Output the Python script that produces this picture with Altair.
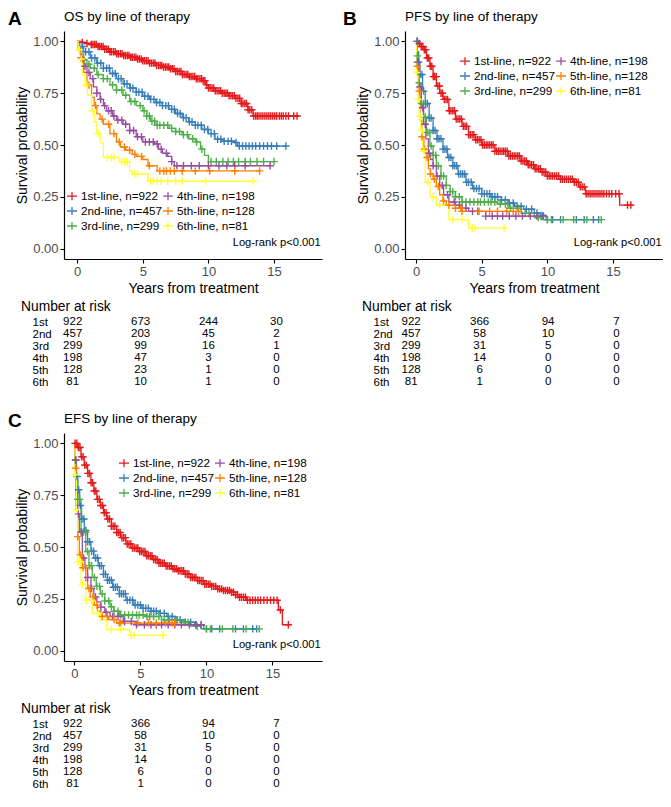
import altair as alt
import pandas as pd

FONT = "Liberation Sans"
PLUS = "M-1,0H1M0,-1V1"
LEG_PLUS = "M-1,0H1M0,-0.8V0.8"

LINES = ["1st-line, n=922", "2nd-line, n=457", "3rd-line, n=299",
         "4th-line, n=198", "5th-line, n=128", "6th-line, n=81"]
COLORS = ["#E41A1C", "#377EB8", "#4DAF4A", "#984EA3", "#FF7F00", "#FFFF33"]

RISK_ROWS = ["1st", "2nd", "3rd", "4th", "5th", "6th"]
RISK_TIMES = [0, 5, 10, 15]
OS_RISK = [[922, 673, 244, 30], [457, 203, 45, 2], [299, 99, 16, 1],
           [198, 47, 3, 0], [128, 23, 1, 0], [81, 10, 1, 0]]
PFS_RISK = [[922, 366, 94, 7], [457, 58, 10, 0], [299, 31, 5, 0],
            [198, 14, 0, 0], [128, 6, 0, 0], [81, 1, 0, 0]]
EFS_RISK = [[922, 366, 94, 7], [457, 58, 10, 0], [299, 31, 5, 0],
            [198, 14, 0, 0], [128, 6, 0, 0], [81, 1, 0, 0]]

# ---------------- OS (panel A) ----------------
OS1_T = [0, 0.3, 0.7, 1.0, 1.5, 2.0, 2.5, 3.0, 3.5, 4.0, 4.5, 5.0, 5.5, 6.0, 6.5, 7.0, 7.5, 8.0, 8.5, 9.0, 9.5, 9.8, 10.0, 10.5, 11.0, 11.5, 12.0, 12.5, 13.0, 13.4, 16.9]
OS1_S = [1.0, 0.995, 0.99, 0.985, 0.975, 0.962, 0.95, 0.94, 0.932, 0.923, 0.915, 0.907, 0.895, 0.884, 0.876, 0.868, 0.855, 0.84, 0.83, 0.82, 0.81, 0.79, 0.775, 0.762, 0.75, 0.738, 0.725, 0.70, 0.67, 0.64, 0.64]
OS1_C = [0.4, 0.75, 1.08, 1.2, 1.33, 1.45, 1.6, 1.72, 1.85, 1.98, 2.1, 2.25, 2.38, 2.5, 2.62, 2.77, 2.9, 3.02, 3.15, 3.3, 3.42, 3.55, 3.68, 3.82, 3.95, 4.08, 4.2, 4.35, 4.48, 4.6, 4.74, 4.88, 5.0, 5.13, 5.27, 5.4, 5.52, 5.66, 5.8, 5.93, 6.05, 6.2, 6.33, 6.45, 6.58, 6.72, 6.85, 6.98, 7.1, 7.25, 7.38, 7.5, 7.63, 7.77, 7.9, 8.02, 8.15, 8.3, 8.43, 8.55, 8.68, 8.82, 8.95, 9.08, 9.2, 9.35, 9.48, 9.6, 9.73, 9.87, 10.0, 10.13, 10.27, 10.4, 10.52, 10.66, 10.8, 10.93, 11.05, 11.2, 11.33, 11.45, 11.58, 11.72, 11.85, 11.98, 12.1, 12.25, 12.38, 12.5, 12.63, 12.77, 12.9, 13.02, 13.15, 13.3, 13.45, 13.6, 13.72, 13.85, 14.0, 14.15, 14.3, 14.45, 14.6, 14.75, 14.9, 15.05, 15.2, 15.4, 15.55, 15.7, 15.9, 16.1, 16.5, 16.75]
OS2_T = [0, 0.2, 0.5, 1.0, 1.5, 2.0, 2.5, 3.0, 3.5, 4.0, 4.5, 5.0, 5.5, 6.0, 6.5, 7.0, 7.5, 8.0, 8.5, 9.0, 9.5, 10.0, 10.5, 11.0, 12.0, 12.2, 15.9]
OS2_S = [1.0, 0.975, 0.95, 0.92, 0.895, 0.87, 0.845, 0.82, 0.795, 0.775, 0.755, 0.735, 0.72, 0.705, 0.69, 0.672, 0.652, 0.632, 0.612, 0.595, 0.575, 0.555, 0.528, 0.518, 0.512, 0.495, 0.495]
OS2_C = [0.4, 0.65, 0.9, 1.1, 1.35, 1.55, 1.8, 2.0, 2.25, 2.45, 2.7, 2.9, 3.15, 3.35, 3.6, 3.8, 4.05, 4.25, 4.5, 4.7, 4.95, 5.15, 5.4, 5.6, 5.85, 6.05, 6.3, 6.5, 6.75, 6.95, 7.2, 7.4, 7.65, 7.85, 8.1, 8.3, 8.55, 8.75, 9.0, 9.2, 9.45, 9.7, 9.95, 10.2, 10.45, 10.7, 10.95, 11.2, 11.5, 11.75, 12.1, 12.35, 12.6, 12.85, 13.1, 13.35, 13.6, 13.9, 14.2, 14.5, 14.8, 15.2, 15.9]
OS3_T = [0, 0.1, 0.25, 0.5, 0.75, 1.0, 1.5, 2.0, 2.5, 3.0, 3.5, 4.0, 4.5, 5.0, 5.3, 5.6, 6.0, 7.0, 7.5, 8.0, 8.5, 9.0, 9.4, 9.7, 10.0, 15.0]
OS3_S = [1.0, 0.97, 0.94, 0.91, 0.89, 0.87, 0.84, 0.82, 0.79, 0.765, 0.74, 0.71, 0.69, 0.665, 0.64, 0.615, 0.595, 0.58, 0.565, 0.55, 0.53, 0.515, 0.48, 0.45, 0.42, 0.42]
OS3_C = [0.5, 0.9, 1.3, 1.6, 2.0, 2.3, 2.7, 3.0, 3.4, 3.7, 4.1, 4.4, 4.8, 5.1, 5.3, 5.5, 5.7, 5.9, 6.1, 6.3, 6.6, 6.9, 7.2, 7.5, 7.8, 8.1, 8.4, 8.8, 9.1, 9.5, 10.2, 10.6, 11.1, 11.5, 11.9, 12.3, 12.8, 13.2, 13.7, 14.2, 15.0]
OS4_T = [0, 0.1, 0.25, 0.5, 0.75, 1.0, 1.25, 1.5, 1.75, 2.0, 2.25, 2.7, 3.0, 3.5, 4.0, 4.5, 5.0, 5.9, 6.2, 6.5, 6.9, 7.2, 7.4, 14.7]
OS4_S = [1.0, 0.96, 0.92, 0.88, 0.85, 0.82, 0.78, 0.75, 0.72, 0.69, 0.665, 0.64, 0.62, 0.60, 0.57, 0.54, 0.515, 0.505, 0.48, 0.46, 0.445, 0.42, 0.40, 0.40]
OS4_C = [0.3, 0.6, 0.9, 1.2, 1.5, 1.8, 2.1, 2.4, 2.6, 2.8, 3.1, 3.4, 3.7, 4.0, 4.3, 4.6, 4.9, 5.2, 5.5, 5.8, 6.1, 6.4, 6.8, 7.2, 7.6, 8.1, 8.7, 9.3, 10.0, 10.8, 11.4, 12.0, 12.8, 14.7]
OS5_T = [0, 0.1, 0.27, 0.5, 0.75, 1.1, 1.3, 1.5, 1.75, 2.0, 2.5, 3.0, 3.3, 3.7, 4.2, 4.5, 5.0, 5.4, 6.1, 13.9]
OS5_S = [1.0, 0.96, 0.915, 0.85, 0.79, 0.73, 0.69, 0.65, 0.625, 0.60, 0.555, 0.515, 0.49, 0.475, 0.455, 0.445, 0.43, 0.40, 0.375, 0.375]
OS5_C = [0.2, 0.4, 0.9, 1.4, 1.9, 2.4, 2.8, 3.2, 3.6, 4.0, 4.4, 4.9, 5.5, 6.3, 6.6, 6.8, 7.1, 7.4, 8.0, 9.0, 10.1, 12.0, 13.9]
OS6_T = [0, 0.1, 0.2, 0.4, 0.6, 0.8, 1.1, 1.3, 1.5, 1.75, 2.0, 3.0, 3.2, 4.0, 4.2, 5.4, 13.4]
OS6_S = [1.0, 0.96, 0.915, 0.84, 0.79, 0.74, 0.665, 0.61, 0.555, 0.51, 0.44, 0.44, 0.42, 0.375, 0.36, 0.325, 0.325]
OS6_C = [0.15, 0.3, 0.7, 1.2, 1.6, 2.3, 2.6, 2.8, 3.4, 3.6, 3.8, 4.4, 4.6, 5.6, 5.8, 6.1, 6.4, 6.9, 7.5, 8.0, 9.8, 13.4]

# ---------------- PFS (panel B) ----------------
PFS1_T = [0, 0.2, 0.4, 0.6, 0.8, 1.06, 1.3, 1.55, 1.8, 2.05, 2.5, 3.0, 3.5, 4.0, 4.5, 5.0, 6.0, 7.0, 8.0, 8.5, 9.0, 9.5, 10.0, 11.0, 12.0, 12.4, 12.9, 15.5, 16.5]
PFS1_S = [1.0, 0.99, 0.975, 0.96, 0.92, 0.88, 0.83, 0.785, 0.75, 0.72, 0.665, 0.625, 0.59, 0.55, 0.525, 0.50, 0.47, 0.447, 0.423, 0.405, 0.385, 0.37, 0.35, 0.335, 0.32, 0.298, 0.265, 0.21, 0.21]
PFS1_C = [0.1, 0.25, 0.4, 0.52, 0.63, 0.75, 0.86, 0.97, 1.08, 1.2, 1.31, 1.42, 1.54, 1.66, 1.78, 1.9, 2.02, 2.15, 2.28, 2.4, 2.53, 2.66, 2.8, 2.93, 3.06, 3.2, 3.33, 3.46, 3.6, 3.73, 3.86, 4.0, 4.13, 4.27, 4.4, 4.54, 4.67, 4.8, 4.94, 5.07, 5.2, 5.34, 5.47, 5.6, 5.74, 5.87, 6.0, 6.14, 6.27, 6.4, 6.54, 6.67, 6.8, 6.94, 7.07, 7.2, 7.34, 7.47, 7.6, 7.74, 7.87, 8.0, 8.14, 8.27, 8.4, 8.54, 8.67, 8.8, 8.94, 9.07, 9.2, 9.34, 9.47, 9.6, 9.74, 9.87, 10.0, 10.14, 10.27, 10.4, 10.55, 10.7, 10.85, 11.0, 11.15, 11.3, 11.45, 11.6, 11.75, 11.9, 12.05, 12.2, 12.35, 12.5, 12.65, 12.8, 12.95, 13.1, 13.25, 13.4, 13.55, 13.7, 13.85, 14.0, 14.15, 14.3, 14.5, 14.7, 14.9, 15.2, 15.45, 16.1, 16.35]
PFS2_T = [0, 0.1, 0.2, 0.3, 0.5, 0.7, 1.0, 1.3, 1.6, 2.05, 2.4, 2.8, 3.2, 3.8, 4.3, 5.0, 5.7, 6.5, 7.0, 7.5, 8.2, 9.0, 9.5, 9.9, 13.9]
PFS2_S = [1.0, 0.95, 0.9, 0.84, 0.76, 0.70, 0.63, 0.57, 0.53, 0.48, 0.44, 0.40, 0.36, 0.32, 0.29, 0.265, 0.25, 0.235, 0.22, 0.205, 0.19, 0.172, 0.16, 0.14, 0.14]
PFS2_C = [0.08, 0.2, 0.32, 0.45, 0.58, 0.72, 0.86, 1.0, 1.15, 1.3, 1.45, 1.6, 1.75, 1.9, 2.05, 2.2, 2.35, 2.5, 2.65, 2.8, 2.95, 3.1, 3.25, 3.4, 3.55, 3.7, 3.85, 4.0, 4.2, 4.4, 4.6, 4.8, 5.0, 5.2, 5.4, 5.6, 5.8, 6.0, 6.2, 6.5, 6.8, 7.1, 7.4, 7.7, 8.0, 8.4, 8.8, 9.2, 9.6, 10.0, 10.4, 11.0, 12.2, 12.8, 13.5, 13.9]
PFS3_T = [0, 0.1, 0.2, 0.4, 0.57, 0.8, 1.06, 1.3, 1.55, 1.9, 2.3, 2.6, 3.0, 3.5, 6.2, 7.0, 8.0, 9.0, 9.5, 14.1]
PFS3_S = [1.0, 0.93, 0.8, 0.7, 0.635, 0.56, 0.495, 0.45, 0.40, 0.35, 0.305, 0.275, 0.25, 0.225, 0.215, 0.195, 0.17, 0.15, 0.14, 0.14]
PFS3_C = [0.1, 0.25, 0.4, 0.55, 0.7, 0.85, 1.0, 1.15, 1.3, 1.5, 1.7, 1.9, 2.1, 2.3, 2.6, 2.8, 3.0, 3.3, 3.5, 3.8, 4.1, 4.4, 4.7, 4.9, 5.2, 5.5, 5.7, 6.0, 6.4, 6.8, 7.2, 7.8, 8.3, 8.6, 9.3, 10.0, 10.3, 11.2, 12.0, 13.0, 14.1]
PFS4_T = [0, 0.1, 0.2, 0.4, 0.57, 0.75, 0.94, 1.1, 1.3, 1.55, 1.8, 2.1, 2.5, 3.0, 3.5, 4.0, 5.3, 9.7]
PFS4_S = [1.0, 0.9, 0.78, 0.68, 0.60, 0.53, 0.46, 0.43, 0.40, 0.35, 0.305, 0.26, 0.225, 0.21, 0.195, 0.18, 0.157, 0.157]
PFS4_C = [0.1, 0.3, 0.5, 0.7, 1.0, 1.3, 1.6, 2.0, 2.4, 2.9, 3.3, 3.8, 4.3, 4.7, 5.3, 5.8, 6.2, 6.6, 7.1, 7.6, 8.1, 8.7, 9.2, 9.7]
PFS5_T = [0, 0.05, 0.15, 0.3, 0.44, 0.6, 0.75, 0.94, 1.1, 1.3, 1.55, 1.8, 2.05, 2.3, 3.0, 3.5, 7.8]
PFS5_S = [1.0, 0.88, 0.76, 0.62, 0.54, 0.48, 0.44, 0.385, 0.36, 0.335, 0.30, 0.26, 0.23, 0.21, 0.195, 0.18, 0.18]
PFS5_C = [0.1, 0.25, 0.45, 0.65, 0.85, 1.1, 1.4, 1.7, 2.1, 2.5, 3.0, 3.4, 3.5, 4.8, 5.6, 6.2, 6.9, 7.4, 7.8]
PFS6_T = [0, 0.05, 0.15, 0.25, 0.35, 0.5, 0.7, 1.06, 1.55, 2.5, 4.0, 6.7]
PFS6_S = [1.0, 0.85, 0.72, 0.64, 0.57, 0.47, 0.32, 0.25, 0.21, 0.14, 0.10, 0.10]
PFS6_C = [0.05, 0.15, 0.3, 0.45, 0.6, 0.9, 1.3, 1.8, 2.8, 3.5, 4.3, 4.5, 6.7]

# ---------------- EFS (panel C) ----------------
EFS1_T = [0, 0.25, 0.5, 0.74, 1.0, 1.25, 1.47, 1.7, 1.96, 2.2, 2.45, 2.8, 3.2, 3.5, 3.9, 4.4, 4.9, 5.4, 5.9, 6.4, 6.9, 7.4, 7.8, 8.3, 8.8, 9.3, 9.8, 10.3, 10.8, 11.3, 11.8, 12.2, 12.5, 13.0, 15.45, 15.75, 16.3]
EFS1_S = [1.0, 0.98, 0.935, 0.895, 0.855, 0.81, 0.77, 0.73, 0.70, 0.665, 0.635, 0.60, 0.57, 0.545, 0.515, 0.495, 0.478, 0.458, 0.44, 0.422, 0.408, 0.395, 0.385, 0.37, 0.353, 0.338, 0.32, 0.31, 0.298, 0.29, 0.282, 0.27, 0.258, 0.243, 0.196, 0.125, 0.125]
EFS1_C = [0.05, 0.18, 0.3, 0.42, 0.54, 0.66, 0.78, 0.9, 1.02, 1.14, 1.26, 1.38, 1.5, 1.62, 1.75, 1.88, 2.0, 2.13, 2.26, 2.4, 2.53, 2.66, 2.8, 2.93, 3.06, 3.2, 3.33, 3.46, 3.6, 3.73, 3.86, 4.0, 4.13, 4.27, 4.4, 4.54, 4.67, 4.8, 4.94, 5.07, 5.2, 5.34, 5.47, 5.6, 5.74, 5.87, 6.0, 6.14, 6.27, 6.4, 6.54, 6.67, 6.8, 6.94, 7.07, 7.2, 7.34, 7.47, 7.6, 7.74, 7.87, 8.0, 8.14, 8.27, 8.4, 8.54, 8.67, 8.8, 8.94, 9.07, 9.2, 9.34, 9.47, 9.6, 9.74, 9.87, 10.0, 10.14, 10.27, 10.4, 10.55, 10.7, 10.85, 11.0, 11.15, 11.3, 11.45, 11.6, 11.75, 11.9, 12.05, 12.2, 12.35, 12.5, 12.65, 12.8, 12.95, 13.1, 13.3, 13.5, 13.7, 13.9, 14.1, 14.35, 14.6, 14.85, 15.1, 15.35, 15.6, 16.2]
EFS2_T = [0, 0.05, 0.15, 0.25, 0.4, 0.54, 0.75, 1.0, 1.25, 1.47, 1.8, 2.2, 2.5, 2.9, 3.4, 3.9, 4.5, 5.1, 5.8, 6.4, 7.0, 7.6, 8.3, 9.1, 9.8, 13.8]
EFS2_S = [1.0, 0.92, 0.84, 0.776, 0.70, 0.635, 0.58, 0.525, 0.48, 0.447, 0.41, 0.368, 0.34, 0.306, 0.275, 0.243, 0.22, 0.204, 0.19, 0.18, 0.165, 0.149, 0.137, 0.125, 0.105, 0.105]
EFS2_C = [0.08, 0.2, 0.32, 0.45, 0.58, 0.72, 0.86, 1.0, 1.15, 1.3, 1.45, 1.6, 1.75, 1.9, 2.05, 2.2, 2.35, 2.5, 2.65, 2.8, 2.95, 3.1, 3.25, 3.4, 3.55, 3.7, 3.85, 4.0, 4.2, 4.4, 4.6, 4.8, 5.0, 5.2, 5.4, 5.6, 5.8, 6.0, 6.2, 6.5, 6.8, 7.1, 7.4, 7.7, 8.0, 8.4, 8.8, 9.2, 9.6, 10.0, 10.4, 11.0, 12.2, 12.8, 13.5, 13.8]
EFS3_T = [0, 0.05, 0.15, 0.25, 0.5, 0.86, 1.1, 1.35, 1.65, 1.96, 2.3, 2.7, 3.0, 3.4, 5.4, 6.6, 8.1, 8.8, 9.6, 14.0]
EFS3_S = [1.0, 0.92, 0.82, 0.73, 0.572, 0.478, 0.41, 0.353, 0.31, 0.274, 0.24, 0.212, 0.19, 0.172, 0.165, 0.149, 0.136, 0.118, 0.105, 0.105]
EFS3_C = [0.1, 0.25, 0.4, 0.55, 0.7, 0.85, 1.0, 1.15, 1.3, 1.5, 1.7, 1.9, 2.1, 2.3, 2.6, 2.8, 3.0, 3.3, 3.5, 3.8, 4.1, 4.4, 4.7, 4.9, 5.2, 5.5, 5.7, 6.0, 6.4, 6.8, 7.2, 7.8, 8.3, 8.6, 9.3, 10.0, 10.3, 11.2, 12.0, 13.0, 14.0]
EFS4_T = [0, 0.05, 0.12, 0.25, 0.37, 0.6, 0.8, 1.0, 1.25, 1.47, 1.7, 2.0, 2.3, 2.7, 3.7, 4.7, 9.6]
EFS4_S = [1.0, 0.92, 0.76, 0.66, 0.572, 0.447, 0.40, 0.353, 0.30, 0.259, 0.235, 0.21, 0.185, 0.165, 0.141, 0.125, 0.125]
EFS4_C = [0.1, 0.3, 0.5, 0.7, 1.0, 1.3, 1.6, 2.0, 2.4, 2.9, 3.3, 3.8, 4.3, 4.7, 5.3, 5.8, 6.2, 6.6, 7.1, 7.6, 8.1, 8.7, 9.2, 9.6]
EFS5_T = [0, 0.05, 0.12, 0.25, 0.37, 0.6, 0.86, 1.0, 1.2, 1.5, 1.75, 2.0, 2.6, 3.2, 7.6]
EFS5_S = [1.0, 0.88, 0.68, 0.55, 0.462, 0.40, 0.337, 0.30, 0.259, 0.22, 0.19, 0.165, 0.15, 0.133, 0.133]
EFS5_C = [0.1, 0.25, 0.45, 0.65, 0.85, 1.1, 1.4, 1.7, 2.1, 2.5, 3.0, 3.4, 3.5, 4.8, 5.6, 6.2, 6.9, 7.4, 7.6]
EFS6_T = [0, 0.05, 0.15, 0.25, 0.5, 0.86, 1.35, 1.96, 2.45, 4.2, 6.7]
EFS6_S = [1.0, 0.85, 0.68, 0.43, 0.32, 0.243, 0.18, 0.149, 0.102, 0.074, 0.074]
EFS6_C = [0.05, 0.15, 0.3, 0.45, 0.6, 0.9, 1.3, 1.8, 2.8, 3.5, 4.3, 4.5, 6.7]

OS_CURVES = [(OS1_T, OS1_S, OS1_C), (OS2_T, OS2_S, OS2_C), (OS3_T, OS3_S, OS3_C),
             (OS4_T, OS4_S, OS4_C), (OS5_T, OS5_S, OS5_C), (OS6_T, OS6_S, OS6_C)]
PFS_CURVES = [(PFS1_T, PFS1_S, PFS1_C), (PFS2_T, PFS2_S, PFS2_C), (PFS3_T, PFS3_S, PFS3_C),
              (PFS4_T, PFS4_S, PFS4_C), (PFS5_T, PFS5_S, PFS5_C), (PFS6_T, PFS6_S, PFS6_C)]
EFS_CURVES = [(EFS1_T, EFS1_S, EFS1_C), (EFS2_T, EFS2_S, EFS2_C), (EFS3_T, EFS3_S, EFS3_C),
              (EFS4_T, EFS4_S, EFS4_C), (EFS5_T, EFS5_S, EFS5_C), (EFS6_T, EFS6_S, EFS6_C)]

W = 258
H = 228
TABLE_H = 72


def step_at(ts, ss, x):
    v = ss[0]
    for t, s in zip(ts, ss):
        if t <= x:
            v = s
        else:
            break
    return v


def panel(tag, tag_x, title, curves, risk, xdom, tdom, leg_x, leg_y):
    line_rows, cens_rows = [], []
    for name, (ts, ss, cs) in zip(LINES, curves):
        for t, s in zip(ts, ss):
            line_rows.append({"t": t, "s": s, "line": name})
        for c in cs:
            cens_rows.append({"t": c, "s": step_at(ts, ss, c), "line": name})
    ldf = pd.DataFrame(line_rows)
    cdf = pd.DataFrame(cens_rows)

    xenc = alt.X("t:Q", scale=alt.Scale(domain=xdom, nice=False, zero=False),
                 axis=alt.Axis(values=[0, 5, 10, 15], title="Years from treatment"))
    yenc = alt.Y("s:Q", scale=alt.Scale(domain=[-0.05, 1.05], nice=False, zero=False),
                 axis=alt.Axis(values=[0, 0.25, 0.5, 0.75, 1.0], format=".2f",
                               title="Survival probability"))
    legend = alt.Legend(orient="none", legendX=leg_x, legendY=leg_y, columns=2,
                        title=None, symbolType=LEG_PLUS, symbolSize=100,
                        symbolStrokeWidth=1.3, labelFont=FONT, labelFontSize=11.7,
                        labelColor="black", labelOffset=3, rowPadding=1,
                        columnPadding=-8, padding=0)
    cenc = alt.Color("line:N", legend=legend,
                     scale=alt.Scale(domain=LINES, range=COLORS))

    lines = alt.Chart(ldf).mark_line(interpolate="step-after", strokeWidth=1.3).encode(
        x=xenc, y=yenc, color=cenc, detail="line:N")
    cens = alt.Chart(cdf).mark_point(shape=PLUS, filled=False, size=56,
                                     strokeWidth=1.4, opacity=1).encode(
        x=xenc, y=yenc, color=cenc)
    lr = alt.Chart(pd.DataFrame({"t": [xdom[1] - 0.1], "s": [0.028],
                                 "label": ["Log-rank p<0.001"]})).mark_text(
        font=FONT, fontSize=11.2, align="right", baseline="middle", color="black").encode(
        x=xenc, y=yenc, text="label:N")
    tag_m = alt.Chart(pd.DataFrame({"label": [tag]})).mark_text(
        font=FONT, fontSize=19, fontWeight="bold", align="left", baseline="top",
        color="black").encode(x=alt.value(tag_x), y=alt.value(-21), text="label:N")
    title_m = alt.Chart(pd.DataFrame({"label": [title]})).mark_text(
        font=FONT, fontSize=13.5, align="left", baseline="middle",
        color="black").encode(x=alt.value(0), y=alt.value(-14), text="label:N")

    plot = alt.layer(lines, cens, lr, tag_m, title_m).properties(width=W, height=H)

    trows = []
    for r, vals in zip(RISK_ROWS, risk):
        for t, v in zip(RISK_TIMES, vals):
            trows.append({"t": t, "row": r, "n": str(v)})
    table = alt.Chart(pd.DataFrame(trows)).mark_text(
        font=FONT, fontSize=11.5, color="black", align="center", baseline="middle").encode(
        x=alt.X("t:Q", scale=alt.Scale(domain=tdom, nice=False, zero=False), axis=None),
        y=alt.Y("row:N", sort=RISK_ROWS, scale=alt.Scale(type="point", padding=0.5),
                axis=alt.Axis(title=None, domain=False, ticks=False, tickSize=0,
                              labelAlign="left", labelPadding=32, labelFont=FONT,
                              labelFontSize=11.5, labelColor="black")),
        text="n:N").properties(
        width=W, height=TABLE_H,
        title=alt.TitleParams("Number at risk", anchor="start", frame="group", dx=-43,
                              fontSize=13.8, font=FONT, fontWeight="normal",
                              color="black", offset=2))
    return alt.vconcat(plot, table, spacing=5).resolve_scale(
        color="independent").resolve_legend(color="independent")


pA = panel("A", -56, "OS by line of therapy", OS_CURVES, OS_RISK,
           [-1.0, 18.65], [-0.64, 18.36], 2, 159)
pB = panel("B", -62, "PFS by line of therapy", PFS_CURVES, PFS_RISK,
           [-0.84, 18.8], [-0.45, 18.39], 54, 24)
pC = panel("C", -56, "EFS by line of therapy", EFS_CURVES, EFS_RISK,
           [-0.79, 18.75], [-0.64, 18.36], 54, 24)

top = alt.hconcat(pA, pB, spacing=21).resolve_scale(
    color="independent").resolve_legend(color="independent")
chart = alt.vconcat(top, pC, spacing=24,
                    padding={"top": 2, "left": 0, "right": 0, "bottom": 0}).resolve_scale(
    color="independent").resolve_legend(color="independent").configure_view(
    stroke=None).configure_axis(
    grid=False, domainColor="black", domainWidth=1.2, tickColor="black", tickWidth=1.1,
    tickSize=4, labelFont=FONT, labelFontSize=13, labelColor="#4D4D4D",
    labelPadding=2, titleFont=FONT, titleFontSize=14, titleFontWeight="normal",
    titleColor="black", titlePadding=3)

chart.save("out.html", embed_options={"renderer": "svg", "actions": False})
